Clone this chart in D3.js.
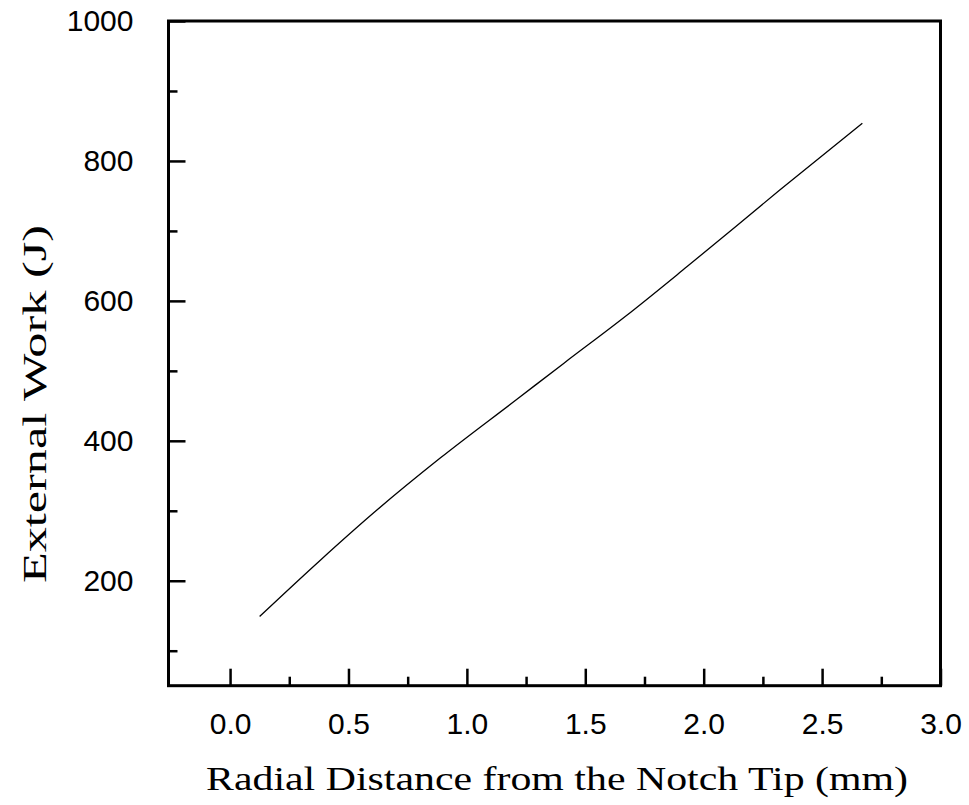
<!DOCTYPE html>
<html>
<head>
<meta charset="utf-8">
<script src="https://cdn.jsdelivr.net/npm/d3@7"></script>
<style>
  body { margin: 0; background: #fff; }
</style>
</head>
<body>
<script>
const width = 969
const height = 805

// data
const distance = [0.125, 0.38, 0.62, 0.89, 1.21, 1.41, 1.67, 1.93, 2.32, 2.67]
const work = [149, 229, 301, 376, 459, 511, 578, 649, 758, 854]

const xMajor = [0.0, 0.5, 1.0, 1.5, 2.0, 2.5, 3.0]
const xMinor = [0.25, 0.75, 1.25, 1.75, 2.25, 2.75]
const yMajor = [200, 400, 600, 800, 1000]
const yMinor = [100, 300, 500, 700, 900]

const margin = {left: 168.5, right: 940.5, top: 21, bottom: 685.7}

const svg = d3.select('body')
    .append('svg')
    .attr('width', width)
    .attr('height', height)

const x = d3.scaleLinear()
    .domain([-0.26, 3.0])
    .range([margin.left, margin.right])

const y = d3.scaleLinear()
    .domain([50, 1000])
    .range([margin.bottom, margin.top])

const tickFont = "'Liberation Sans', Arial, sans-serif"
const titleFont = "'Times New Roman', 'Liberation Serif', Times, serif"

// x axis
svg.append('g')
    .attr('transform', `translate(0,${margin.bottom})`)
    .call(d3.axisBottom(x).tickValues(xMajor).tickFormat(d3.format('.1f')).tickSize(-17).tickPadding(27))
svg.append('g')
    .attr('transform', `translate(0,${margin.bottom})`)
    .call(d3.axisBottom(x).tickValues(xMinor).tickFormat('').tickSize(-9))

// y axis
svg.append('g')
    .attr('transform', `translate(${margin.left},0)`)
    .call(d3.axisLeft(y).tickValues(yMajor).tickFormat(d3.format('d')).tickSize(-17).tickPadding(35))
svg.append('g')
    .attr('transform', `translate(${margin.left},0)`)
    .call(d3.axisLeft(y).tickValues(yMinor).tickFormat('').tickSize(-9))

svg.selectAll('.domain').remove()
svg.selectAll('.tick line')
    .attr('stroke', '#000')
    .attr('stroke-width', 2.5)
svg.selectAll('.tick text')
    .attr('fill', '#000')
    .style('font-family', tickFont)
    .style('font-size', '30px')

// frame
svg.append('rect')
    .attr('x', margin.left)
    .attr('y', margin.top)
    .attr('width', margin.right - margin.left)
    .attr('height', margin.bottom - margin.top)
    .attr('fill', 'none')
    .attr('stroke', '#000')
    .attr('stroke-width', 3)

// curve
const line = d3.line()
    .x((d, i) => x(distance[i]))
    .y(d => y(d))
    .curve(d3.curveMonotoneX)

svg.append('path')
    .datum(work)
    .attr('d', line)
    .attr('fill', 'none')
    .attr('stroke', '#000')
    .attr('stroke-width', 1.3)

// titles
svg.append('text')
    .attr('x', 206)
    .attr('y', 790)
    .style('font-family', titleFont)
    .style('font-size', '34px')
    .attr('textLength', 702)
    .attr('lengthAdjust', 'spacingAndGlyphs')
    .text('Radial Distance from the Notch Tip (mm)')

svg.append('text')
    .attr('transform', 'translate(46,583) rotate(-90)')
    .style('font-family', titleFont)
    .style('font-size', '34px')
    .attr('textLength', 358)
    .attr('lengthAdjust', 'spacingAndGlyphs')
    .text('External Work (J)')
</script>
</body>
</html>
